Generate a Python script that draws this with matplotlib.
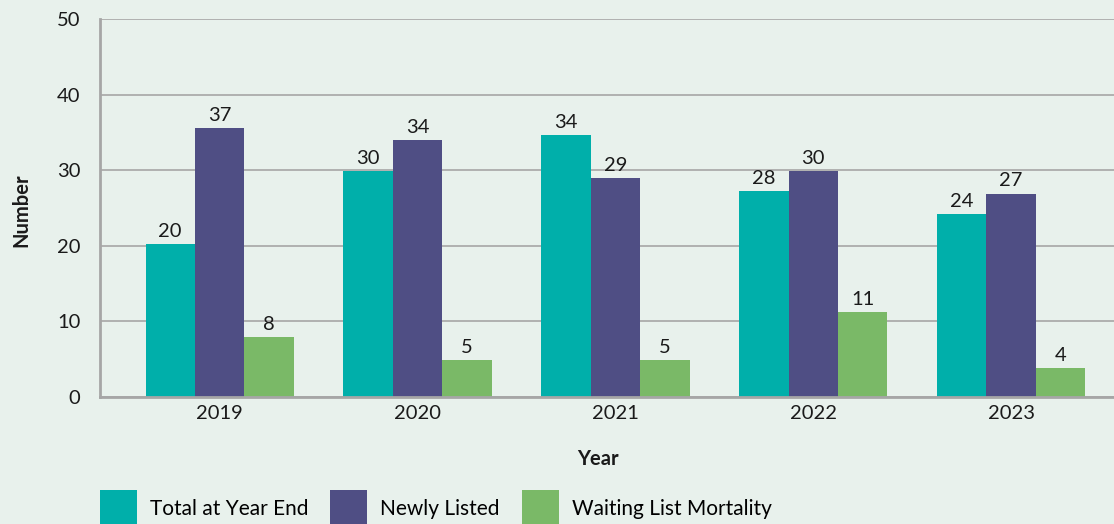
import numpy as np
import matplotlib
matplotlib.use("Agg")
import matplotlib.pyplot as plt

plt.rcParams['font.family'] = ['Lato', 'DejaVu Sans']

# Data
years = ["2019", "2020", "2021", "2022", "2023"]
series_names = ["Total at Year End", "Newly Listed", "Waiting List Mortality"]
# bar heights as drawn
total_heights = [20.2, 29.9, 34.7, 27.2, 24.2]
newly_heights = [35.6, 34.0, 29.0, 29.9, 26.9]
mortality_heights = [7.9, 4.9, 4.9, 11.2, 3.8]
# value labels as printed above the bars
total_labels = [20, 30, 34, 28, 24]
newly_labels = [37, 34, 29, 30, 27]
mortality_labels = [8, 5, 5, 11, 4]
yticks = [0, 10, 20, 30, 40, 50]

colors = ["#00AFAA", "#4F4E84", "#7AB967"]
bg = "#E8F1EC"
gray = "#A6A6A6"
txt = "#1a1a1a"
fs = 14.5

fig = plt.figure(figsize=(11.14, 5.24), dpi=100, facecolor=bg)
ax = fig.add_axes([100 / 1114, 1 - 397 / 524, 1 - 100 / 1114, (397 - 19) / 524])
ax.set_facecolor(bg)

x = np.arange(len(years))
w = 0.25
heights = [total_heights, newly_heights, mortality_heights]
labels = [total_labels, newly_labels, mortality_labels]
for i, (h, lab) in enumerate(zip(heights, labels)):
    bars = ax.bar(x + (i - 1) * w, h, width=w, color=colors[i], label=series_names[i], zorder=3)
    for b, v in zip(bars, lab):
        ax.annotate(str(v), (b.get_x() + b.get_width() / 2, b.get_height()),
                    xytext=(0, 3), textcoords="offset points",
                    ha="center", va="bottom", fontsize=fs, color=txt)

ax.set_xlim(-0.605, 4.52)
ax.set_ylim(0, 50)
ax.set_yticks(yticks)
ax.set_xticks(x)
ax.set_xticklabels(years)
ax.grid(axis="y", color=gray, linewidth=1.2, zorder=0)
ax.tick_params(axis="y", length=0, pad=14, labelsize=fs, colors=txt)
ax.tick_params(axis="x", length=0, pad=6, labelsize=fs, colors=txt)
for s in ["top", "right"]:
    ax.spines[s].set_visible(False)
for s in ["left", "bottom"]:
    ax.spines[s].set_color(gray)
    ax.spines[s].set_linewidth(2)
    ax.spines[s].set_zorder(4)

ax.set_xlabel("Year", fontsize=fs, fontweight="bold", color=txt, va="center")
ax.xaxis.set_label_coords(0.5 + (598 - 607) / 1014, -(459 - 397) / 378)
ax.set_ylabel("Number", fontsize=fs, fontweight="bold", color=txt, va="center")
ax.yaxis.set_label_coords(-(100 - 21) / 1014, 1 - (210 - 19) / 378)

fig.legend(loc="upper left", bbox_to_anchor=(100 / 1114, 1 - 490 / 524),
           ncol=3, frameon=False, fontsize=15, handlelength=1.78, handleheight=2.4,
           handletextpad=0.62, columnspacing=1.05, borderpad=0, borderaxespad=0)

fig.savefig("out.png", dpi=100, facecolor=bg)
